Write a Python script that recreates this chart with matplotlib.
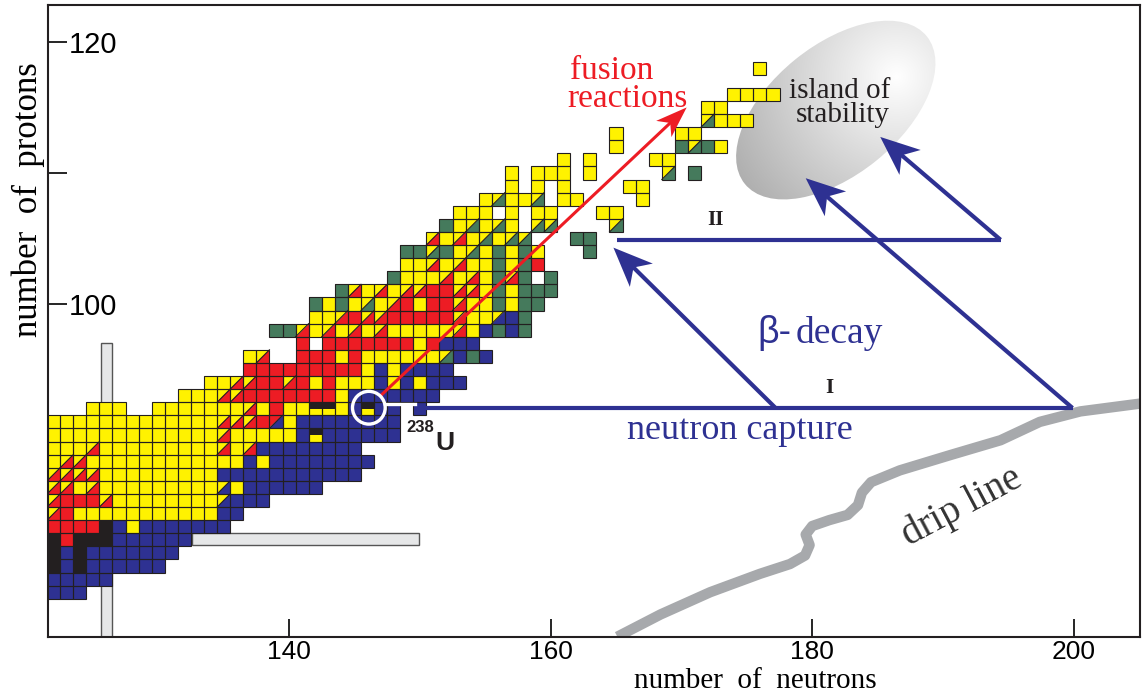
import numpy as np
import matplotlib
matplotlib.use('Agg')
import matplotlib.pyplot as plt
from matplotlib.patches import Rectangle, Polygon, Ellipse, Circle

# cell colours
colors = {'Y': '#fff200', 'R': '#ed1c24', 'B': '#2e3192', 'G': '#457a5c', 'K': '#231f20'}
# diagonal cells: (upper-left, lower-right)
splits = {'r': ('Y', 'R'), 'g': ('Y', 'G'), 'b': ('Y', 'B'), 'x': ('R', 'B')}
# half cells: (top half, bottom half)
halves = {'k': ('K', 'Y')}

# proton number -> (first neutron number, cell codes)
chart_rows = {
    118: (176, "Y"),
    116: (174, "YYYY"),
    115: (172, "YY"),
    114: (172, "gYYY"),
    113: (165, "Y....YY"),
    112: (165, "Y....GgGY"),
    111: (161, "Y.Y....YY"),
    110: (157, "Y.YYY.Y.....g.G"),
    109: (157, "Y.Y.Y....YY"),
    108: (155, "YgYYg.YY....Y"),
    107: (153, "YYY.Y.YY...YY"),
    106: (152, "GYgYgY.gg....g"),
    105: (151, "rYrYgYgg...GG"),
    104: (149, "GGgGYgYGYGY...G"),
    103: (149, "YYrYrYYGYGR"),
    102: (148, "GYYYrYrYGrG.G"),
    101: (144, "GrYrYrrRRrrYGYGGG"),
    100: (142, "GYGYgYrRYRRrYYGYGG"),
    99: (142, "YYrRrrRRRRRrYYbBG"),
    98: (139, "GGrYrYrYrYYYYYrYBGBG"),
    97: (141, "R.RRRRRRRYRBBB"),
    96: (137, "Yr..RRRYRYYYYYYgBGB"),
    95: (137, "RRRRRRRRRYBYBBBB"),
    94: (134, "YYrrRRrRYRYYYBYBYBBB"),
    93: (132, "YYYrrRRRRRRRYBBBBBBB"),
    92: (125, "YYY..YYYYYYYrYRYYkkYBkBB.B"),
    91: (122, "YYYYYYYYYYYYYrrrRxYBBBBBBBB"),
    90: (122, "YYYYYYYYYYYYYrYYYYYBkBBBBBB"),
    89: (122, "YYYrYYYYYYYYYrYrBBBBBBBB"),
    88: (122, "YrrYYYYYYYYYYYYBYBBBBBBBB"),
    87: (122, "rrrrYYYYYYYYYBBBBBBBBBBB"),
    86: (122, "rrYrYYYYYYYYYbYBBBBBB"),
    85: (122, "rRRRrYYYYYYYYbBBB"),
    84: (122, "rRYYYYYYYYYYYBB"),
    83: (122, "RRRRKBYBBBBBBB"),
    82: (122, "KRKKKBBBBBB"),
    81: (122, "KBKBBBBBBB"),
    80: (122, "KBKBBBBBB"),
    79: (122, "BBBBB"),
    78: (122, "BBB"),
}

# magic-number bars
magic_n, magic_n_top = 126, 97.0
magic_z, magic_z_n = 82, (132.6, 149.9)

# reactions (neutron number, proton number)
u238 = (146, 92)
fusion_start, fusion_end = (147.0, 93.0), (170.4, 115.0)
capture_I = ((149.9, 92.06), (199.9, 92.06))
capture_II = ((165.1, 104.9), (194.4, 104.9))
beta_arrows = [((177.2, 92.06), (164.8, 104.3)),
               ((199.9, 92.06), (179.5, 109.6)),
               ((194.4, 104.9), (185.2, 112.75))]

# drip line
drip_n = [165.1, 168.4, 172.2, 176.0, 178.3, 179.45, 179.8, 179.5, 180.0, 181.3, 182.7,
          183.5, 183.8, 184.5, 186.7, 190.5, 194.4, 197.4, 200.5, 205.1]
drip_z = [74.6, 76.3, 78.0, 79.4, 80.15, 80.8, 81.6, 82.4, 83.05, 83.5, 83.9,
          84.65, 85.6, 86.4, 87.3, 88.45, 89.6, 91.0, 91.8, 92.4]

serif = 'Liberation Serif'
blue = colors['B']
red = colors['R']

fig = plt.figure(figsize=(11.45, 6.95), dpi=100)
ax = fig.add_axes([48 / 1145, 1 - 637 / 695, 1092 / 1145, 632 / 695])
ax.set_xlim(121.57, 205.06)
ax.set_ylim(74.58, 122.82)

# gray magic number bars
ax.add_patch(Rectangle((magic_n - 0.4, 74.58), 0.9, magic_n_top - 74.58,
                       fc='#e6e7e8', ec='#555555', lw=1.0, zorder=1))
ax.add_patch(Rectangle((magic_z_n[0], magic_z - 0.4), magic_z_n[1] - magic_z_n[0], 0.9,
                       fc='#e6e7e8', ec='#555555', lw=1.0, zorder=1))

edge = '#231f20'
for z, (n0, codes) in chart_rows.items():
    for i, c in enumerate(codes):
        if c == '.':
            continue
        x0, y0 = n0 + i - 0.5, z - 0.5
        if c in colors:
            ax.add_patch(Rectangle((x0, y0), 1, 1, fc=colors[c], ec='none', zorder=2))
        elif c in splits:
            ul, lr = splits[c]
            ax.add_patch(Polygon([(x0, y0), (x0, y0 + 1), (x0 + 1, y0 + 1)],
                                 closed=True, fc=colors[ul], ec='none', zorder=2))
            ax.add_patch(Polygon([(x0, y0), (x0 + 1, y0), (x0 + 1, y0 + 1)],
                                 closed=True, fc=colors[lr], ec='none', zorder=2))
            ax.plot([x0, x0 + 1], [y0, y0 + 1], color=edge, lw=0.8, zorder=2.5)
        elif c in halves:
            top, bot = halves[c]
            ax.add_patch(Rectangle((x0, y0), 1, 0.5, fc=colors[bot], ec='none', zorder=2))
            ax.add_patch(Rectangle((x0, y0 + 0.5), 1, 0.5, fc=colors[top], ec='none', zorder=2))
        ax.add_patch(Rectangle((x0, y0), 1, 1, fc='none', ec=edge, lw=0.8, zorder=2.6))

# island of stability
isl = Ellipse((181.8, 114.8), 17.9, 9.9, angle=39, fc='none', ec='none', zorder=1.5)
ax.add_patch(isl)
gx, gy = np.meshgrid(np.linspace(170, 194, 200), np.linspace(106, 124, 160))
d = np.hypot(gx - 186.5, gy - 117.3)
g = np.clip(1.0 - 0.022 * d, 0.68, 1)
im = ax.imshow(np.dstack([g, g, g]), extent=(170, 194, 106, 124), origin='lower',
               aspect='auto', zorder=1.5, interpolation='bilinear')
im.set_clip_path(isl)
ax.set_xlim(121.57, 205.06)
ax.set_ylim(74.58, 122.82)

# drip line
ax.plot(drip_n, drip_z, color='#a7a9ac', lw=7.5, solid_capstyle='butt',
        solid_joinstyle='round', zorder=1.4)


def arrow(p0, p1, color, lw, hl, hw, z):
    p0, p1 = np.array(p0), np.array(p1)
    u = (p1 - p0) / np.hypot(*(p1 - p0))
    nrm = np.array([-u[1], u[0]])
    base = p1 - hl * u
    ax.plot([p0[0], (p1 - 0.6 * hl * u)[0]], [p0[1], (p1 - 0.6 * hl * u)[1]],
            color=color, lw=lw, solid_capstyle='butt', zorder=z)
    ax.add_patch(Polygon([p1, base + nrm * hw / 2, p1 - 0.72 * hl * u, base - nrm * hw / 2],
                         closed=True, fc=color, ec='none', zorder=z))


for seg in (capture_I, capture_II):
    ax.plot([seg[0][0], seg[1][0]], [seg[0][1], seg[1][1]], color=blue, lw=3,
            solid_capstyle='butt', zorder=3)
for p0, p1 in beta_arrows:
    arrow(p0, p1, blue, 3, 3.0, 2.5, 3)
arrow(fusion_start, fusion_end, red, 2.2, 2.4, 1.7, 4)

# U-238 marker
ax.add_patch(Circle((u238[0] + 0.1, u238[1] + 0.08), 1.25, fc='none', ec='white', lw=2.4, zorder=5))
ax.plot([147.35, 149.6], [92.35, 92.35], color='white', lw=2.4, zorder=5)
ax.text(149.0, 90.25, '238', fontsize=12, fontweight='bold',
        family='Liberation Sans', color='#231f20', zorder=6)
ax.text(151.15, 88.85, 'U', fontsize=19, fontweight='bold',
        family='Liberation Sans', color='#231f20', zorder=6)

# labels
ax.text(161.45, 117.15, 'fusion', color=red, fontsize=24, family=serif, zorder=6)
ax.text(161.3, 115.0, 'reactions', color=red, fontsize=24, family=serif, zorder=6)
ax.text(182.1, 115.7, 'island of', color='#231f20', fontsize=21, family=serif,
        ha='center', zorder=6)
ax.text(182.3, 113.9, 'stability', color='#231f20', fontsize=21, family=serif,
        ha='center', zorder=6)
ax.text(175.8, 97.0, 'β-', color=blue, fontsize=27, family='Liberation Sans', zorder=6)
ax.text(178.7, 97.0, 'decay', color=blue, fontsize=27, family=serif, zorder=6)
ax.text(174.5, 89.7, 'neutron capture', color=blue, fontsize=26, family=serif,
        ha='center', zorder=6)
ax.text(181.3, 93.6, 'I', fontsize=15, fontweight='bold', family=serif, color='#231f20',
        ha='center', va='center', zorder=6)
ax.text(172.6, 106.4, 'II', fontsize=15, fontweight='bold', family=serif, color='#231f20',
        ha='center', va='center', zorder=6)
ax.text(191.45, 84.5, 'drip line', fontsize=28, family=serif, color='#333333', rotation=28,
        ha='center', va='center', zorder=6)

# axes
for s in ax.spines.values():
    s.set_linewidth(1.5)
    s.set_color('#231f20')
ax.set_xticks([140, 160, 180, 200])
ax.set_xticklabels(['140', '160', '180', '200'], family=['Liberation Sans Narrow', 'Liberation Sans'],
                   fontsize=19)
ax.set_yticks([100, 110, 120])
ax.set_yticklabels(['100', '', '120'], family='Liberation Sans', fontsize=21)
ax.tick_params(axis='x', direction='in', length=13, width=1.2, pad=2)
ax.tick_params(axis='y', direction='in', length=14, width=1.2, pad=-15)
for lab in ax.get_yticklabels():
    lab.set_horizontalalignment('left')

fig.text(755 / 1145, 1 - 681 / 695, 'number  of  neutrons', family=serif, fontsize=21,
         ha='center', va='center')
fig.text(28 / 1145, 1 - 200 / 695, 'number  of  protons', family=serif, fontsize=25,
         ha='center', va='center', rotation=90)

fig.savefig('out.png', dpi=100)
